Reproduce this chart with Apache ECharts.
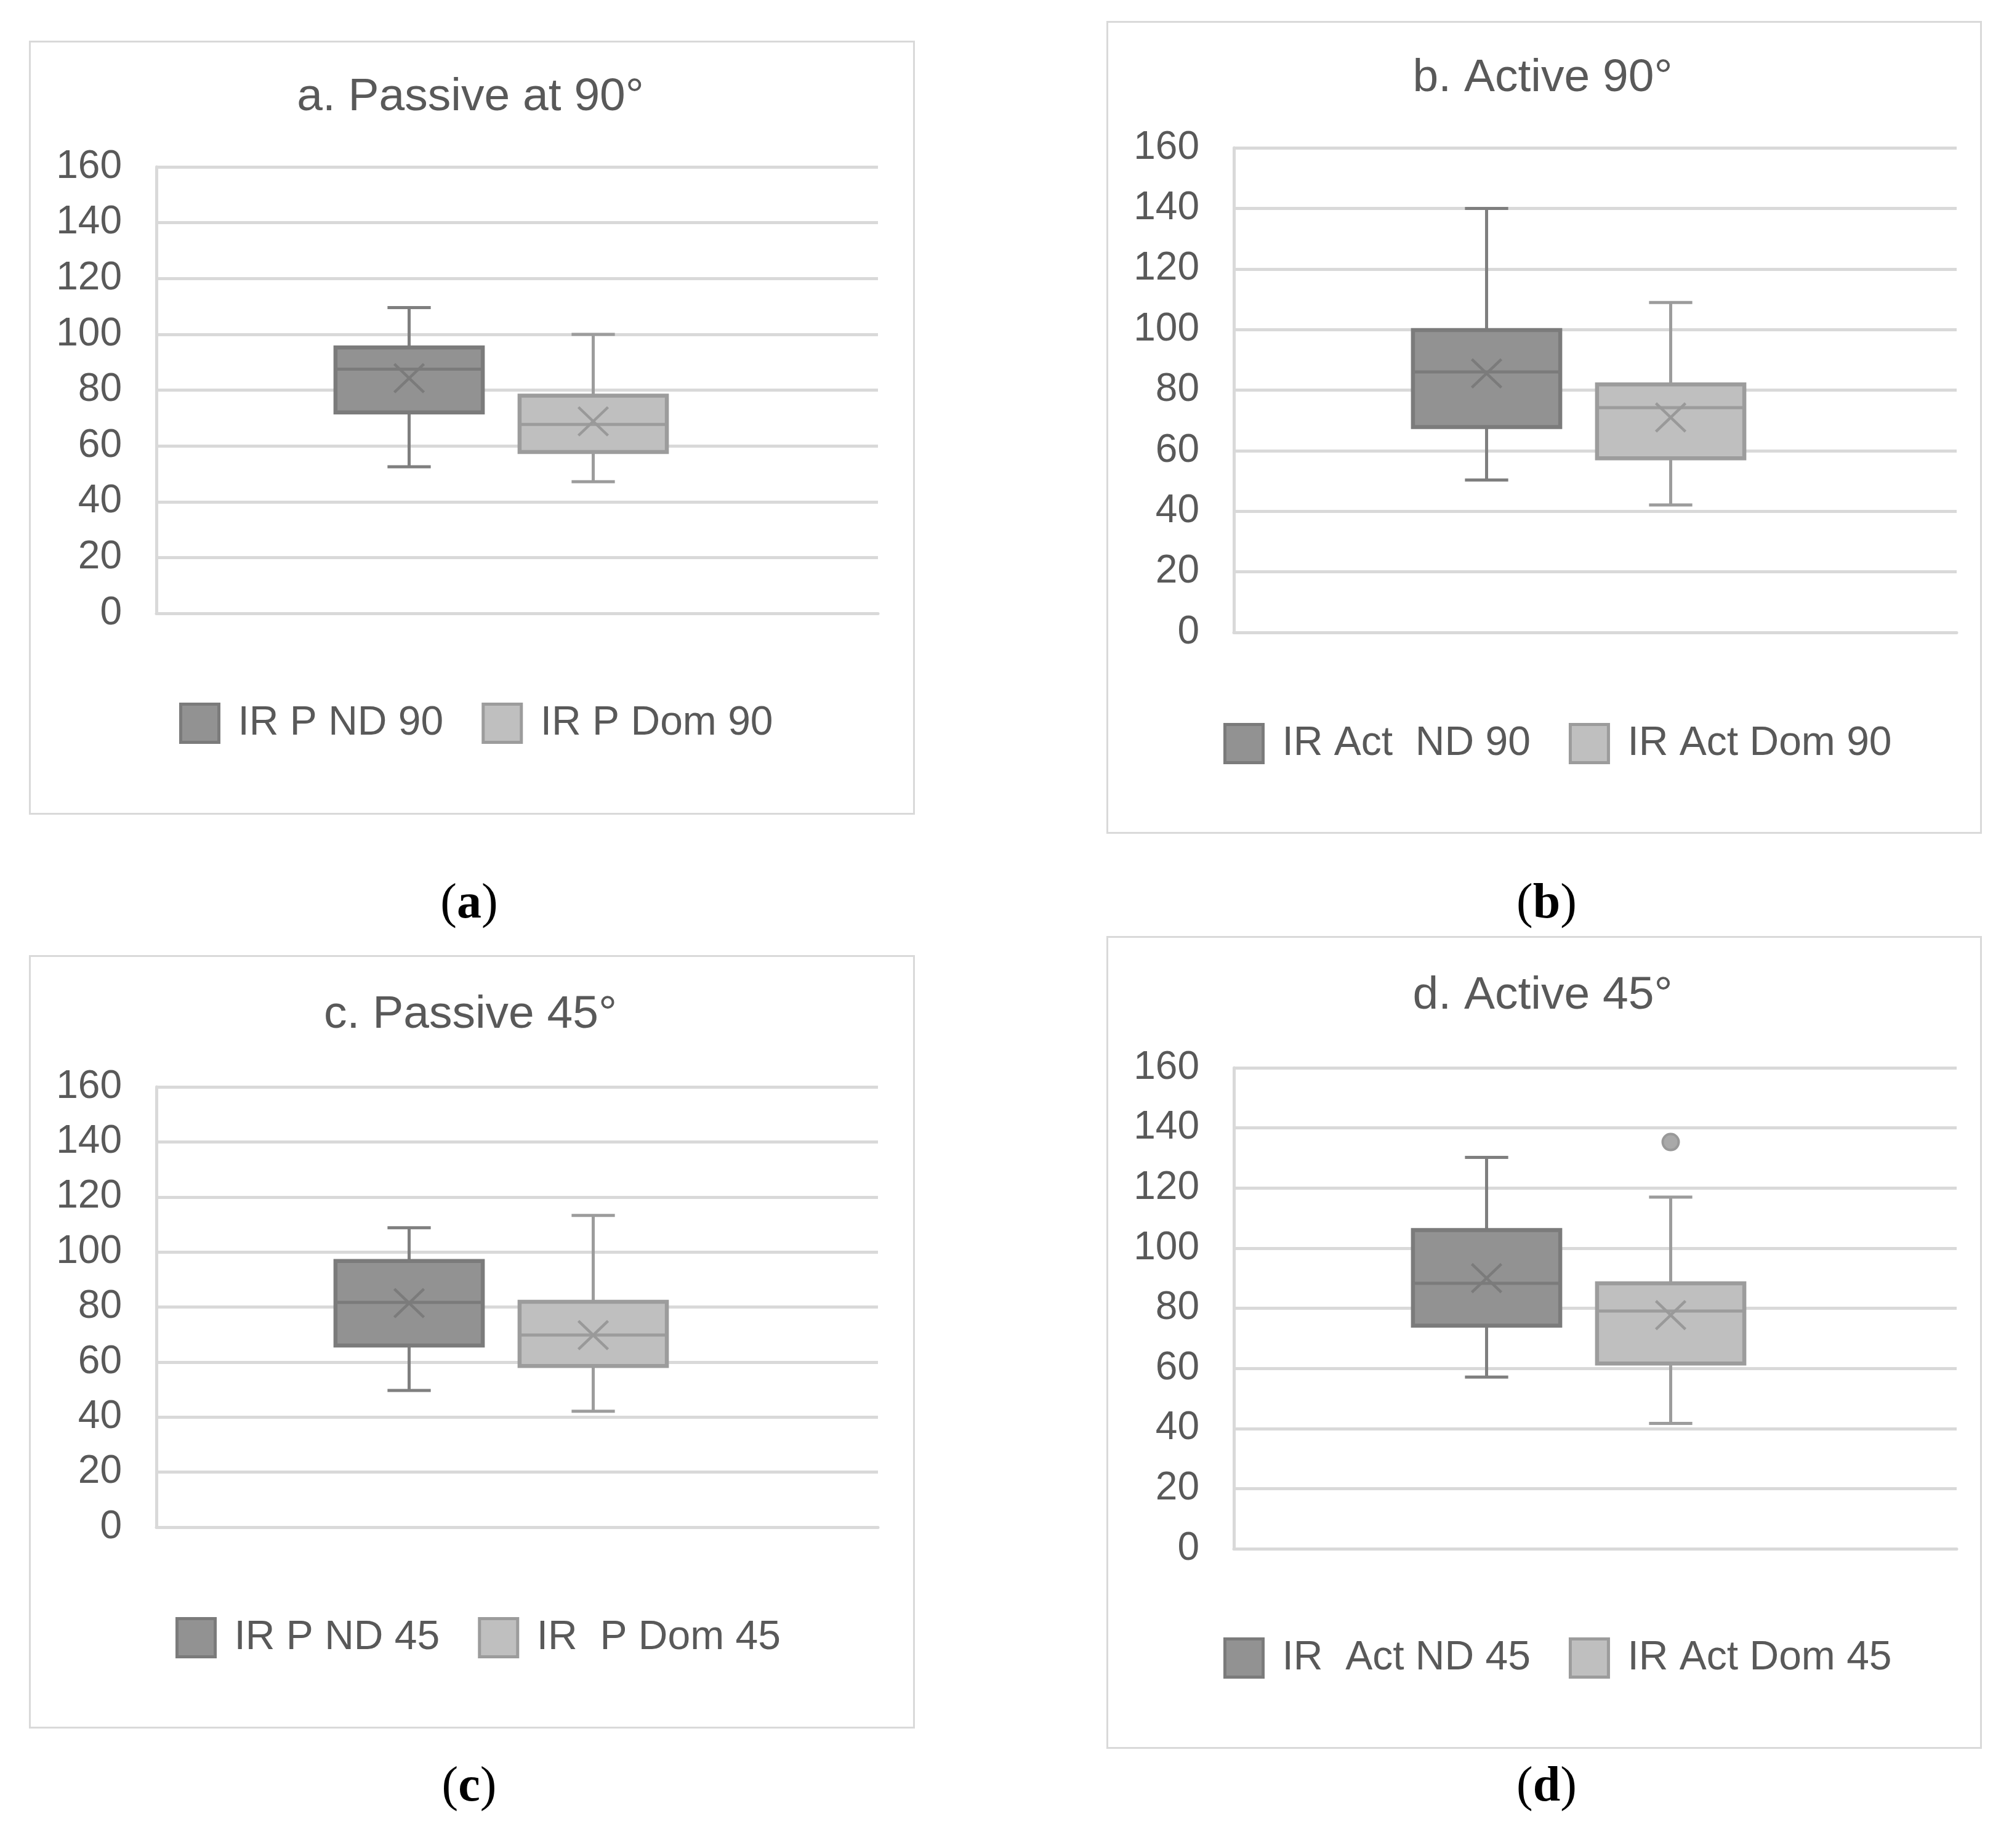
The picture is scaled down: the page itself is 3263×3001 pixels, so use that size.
<!DOCTYPE html>
<html>
<head>
<meta charset="utf-8">
<script src="https://cdn.jsdelivr.net/npm/echarts@6.0.0/dist/echarts.min.js"></script>
<style>
  html, body { margin: 0; padding: 0; background: #ffffff; }
  #chart { width: 3263px; height: 3001px; }
</style>
</head>
<body>
<div id="chart"></div>
<script>
// ---------------- DATA ----------------
const panelTitles = ['a. Passive at 90°', 'b. Active 90°', 'c. Passive 45°', 'd. Active 45°'];
const captionLetters = ['a', 'b', 'c', 'd'];
const ndNames  = ['IR P ND 90', 'IR Act  ND 90', 'IR P ND 45', 'IR  Act ND 45'];
const domNames = ['IR P Dom 90', 'IR Act Dom 90', 'IR  P Dom 45', 'IR Act Dom 45'];
const yTicks = [0, 20, 40, 60, 80, 100, 120, 140, 160];

// [min, Q1, median, Q3, max]
const ndStats = [
  [52.5, 72.0, 87.5, 95.3, 109.6],
  [50.3, 67.8, 86.0, 99.8, 140.0],
  [49.7, 66.0, 81.7, 96.7, 108.8],
  [57.1, 74.2, 88.3, 106.0, 130.2]
];
const domStats = [
  [47.2, 57.8, 67.7, 78.0, 100.0],
  [42.1, 57.5, 74.2, 81.9, 108.9],
  [42.1, 58.6, 69.8, 81.9, 113.3],
  [41.7, 61.6, 79.1, 88.3, 117.0]
];
const ndMeans  = [84.3, 85.5, 81.4, 90.0];
const domMeans = [68.8, 71.0, 69.8, 77.7];
// outliers per panel for the Dom series
const domOutliers = [[], [], [], [135.3]];

// ---------------- LAYOUT / STYLE ----------------
const panels = [
  { frame: [46, 65, 1482, 1319],   plot: [254, 271, 1426, 996],   titleY: 158,  legendLeft: 291,  legendY: 1172, capX: 762,  capY: 1469 },
  { frame: [1796, 33, 3215, 1350], plot: [2004, 240, 3178, 1027], titleY: 127,  legendLeft: 1987, legendY: 1205, capX: 2512, capY: 1469 },
  { frame: [46, 1550, 1482, 2803], plot: [254, 1765, 1426, 2480], titleY: 1648, legendLeft: 285,  legendY: 2657, capX: 762,  capY: 2903 },
  { frame: [1796, 1519, 3215, 2836], plot: [2004, 1734, 3178, 2515], titleY: 1617, legendLeft: 1987, legendY: 2690, capX: 2512, capY: 2903 }
];
const W = 3263, H = 3001;
const FONT = '"Liberation Sans", Arial, sans-serif';
const SERIF = '"Liberation Serif", "Times New Roman", serif';
const TEXT = '#595959';
const GRID = '#d9d9d9';
const ndStyle  = { fill: '#929292', border: '#7b7b7b', whisker: '#7f7f7f', mark: '#7b7b7b' };
const domStyle = { fill: '#bfbfbf', border: '#9c9c9c', whisker: '#9c9c9c', mark: '#999999' };

function makeRenderer(st) {
  return function (params, api) {
    const x = api.value(0);
    const vals = [1, 2, 3, 4, 5, 6].map(i => api.value(i));
    const band = api.size([1, 0])[0];
    const bw = band * 0.8;
    const cw = band * 0.235;
    const c = v => api.coord([x, v]);
    const pMin = c(vals[0]), pQ1 = c(vals[1]), pMed = c(vals[2]), pQ3 = c(vals[3]), pMax = c(vals[4]), pMean = c(vals[5]);
    const cx = pMin[0];
    const wl = { stroke: st.whisker, lineWidth: 5 };
    const ml = { stroke: st.mark, lineWidth: 4.5 };
    const xs = 24, ys = 23;
    return {
      type: 'group',
      children: [
        { type: 'line', shape: { x1: cx, y1: pMax[1], x2: cx, y2: pQ3[1] }, style: wl },
        { type: 'line', shape: { x1: cx - cw / 2, y1: pMax[1], x2: cx + cw / 2, y2: pMax[1] }, style: wl },
        { type: 'line', shape: { x1: cx, y1: pQ1[1], x2: cx, y2: pMin[1] }, style: wl },
        { type: 'line', shape: { x1: cx - cw / 2, y1: pMin[1], x2: cx + cw / 2, y2: pMin[1] }, style: wl },
        { type: 'rect', shape: { x: cx - bw / 2, y: pQ3[1], width: bw, height: pQ1[1] - pQ3[1] },
          style: { fill: st.fill, stroke: st.border, lineWidth: 6.5 } },
        { type: 'line', shape: { x1: cx - bw / 2, y1: pMed[1], x2: cx + bw / 2, y2: pMed[1] },
          style: { stroke: st.border, lineWidth: 5 } },
        { type: 'line', shape: { x1: cx - xs, y1: pMean[1] - ys, x2: cx + xs, y2: pMean[1] + ys }, style: ml },
        { type: 'line', shape: { x1: cx - xs, y1: pMean[1] + ys, x2: cx + xs, y2: pMean[1] - ys }, style: ml }
      ]
    };
  };
}

const option = {
  backgroundColor: '#ffffff',
  animation: false,
  title: [], legend: [], grid: [], xAxis: [], yAxis: [], series: [],
  graphic: []
};

panels.forEach((p, i) => {
  const [fl, ft, fr, fb] = p.frame;
  const [pl, pt, pr, pb] = p.plot;
  // frame
  option.graphic.push({
    type: 'rect', left: fl, top: ft, silent: true,
    shape: { width: fr - fl, height: fb - ft },
    style: { fill: 'none', stroke: GRID, lineWidth: 3 }
  });
  // panel title
  option.title.push({
    text: panelTitles[i], left: (fl + fr) / 2, top: p.titleY,
    textAlign: 'center', textVerticalAlign: 'middle', padding: 0,
    textStyle: { fontFamily: FONT, fontSize: 75, fontWeight: 'normal', color: TEXT }
  });
  // caption: normal parentheses, bold letter
  option.title.push({
    text: '{p|(}{b|' + captionLetters[i] + '}{p|)}', left: p.capX, top: p.capY,
    textAlign: 'center', textVerticalAlign: 'middle', padding: 0,
    textStyle: {
      rich: {
        p: { fontFamily: SERIF, fontSize: 80, fontWeight: 'normal', color: '#000000' },
        b: { fontFamily: SERIF, fontSize: 80, fontWeight: 'bold', color: '#000000' }
      }
    }
  });
  // base grid (gridlines, y labels)
  const gBase = option.grid.length;
  option.grid.push({ left: pl, top: pt, width: pr - pl, height: pb - pt, containLabel: false });
  option.xAxis.push({
    gridIndex: gBase, type: 'category', data: [''],
    axisLine: { show: true, lineStyle: { color: GRID, width: 5 } },
    axisTick: { show: false }, axisLabel: { show: false }, splitLine: { show: false }
  });
  option.yAxis.push({
    gridIndex: gBase, type: 'value', min: yTicks[0], max: yTicks[yTicks.length - 1], interval: yTicks[1] - yTicks[0],
    axisLine: { show: true, lineStyle: { color: GRID, width: 5 } },
    axisTick: { show: false },
    axisLabel: { fontFamily: FONT, fontSize: 64, color: TEXT, margin: 56 },
    splitLine: { show: true, lineStyle: { color: GRID, width: 5 } }
  });
  // box grid (positions the two boxes)
  const gBox = option.grid.length;
  option.grid.push({ left: pl + 261, top: pt, width: 598, height: pb - pt, containLabel: false });
  option.xAxis.push({
    gridIndex: gBox, type: 'category', data: ['ND', 'Dom'], show: false
  });
  option.yAxis.push({
    gridIndex: gBox, type: 'value', min: yTicks[0], max: yTicks[yTicks.length - 1], show: false,
    splitLine: { show: false }
  });
  option.series.push({
    name: ndNames[i], type: 'custom', xAxisIndex: gBox, yAxisIndex: gBox,
    renderItem: makeRenderer(ndStyle),
    encode: { x: 0, y: [1, 2, 3, 4, 5, 6] },
    itemStyle: { color: ndStyle.fill, borderColor: ndStyle.border },
    data: [[0].concat(ndStats[i], [ndMeans[i]])],
    z: 5
  });
  option.series.push({
    name: domNames[i], type: 'custom', xAxisIndex: gBox, yAxisIndex: gBox,
    renderItem: makeRenderer(domStyle),
    encode: { x: 0, y: [1, 2, 3, 4, 5, 6] },
    itemStyle: { color: domStyle.fill, borderColor: domStyle.border },
    data: [[1].concat(domStats[i], [domMeans[i]])],
    z: 5
  });
  if (domOutliers[i].length) {
    option.series.push({
      name: domNames[i] + ' outliers', type: 'scatter', xAxisIndex: gBox, yAxisIndex: gBox,
      symbol: 'circle', symbolSize: 26,
      itemStyle: { color: '#a9a9a9', borderColor: '#999999', borderWidth: 4, opacity: 1 },
      data: domOutliers[i].map(v => [1, v]),
      z: 6
    });
  }
  // legend
  option.legend.push({
    left: p.legendLeft, top: p.legendY - 31, orient: 'horizontal',
    itemWidth: 62, itemHeight: 62, itemGap: 62, padding: 0,
    selectedMode: false,
    textStyle: { fontFamily: FONT, fontSize: 66, color: TEXT, padding: [0, 0, 0, 26] },
    data: [
      { name: ndNames[i], icon: 'rect', itemStyle: { color: ndStyle.fill, borderColor: ndStyle.border, borderWidth: 5 } },
      { name: domNames[i], icon: 'rect', itemStyle: { color: domStyle.fill, borderColor: domStyle.border, borderWidth: 5 } }
    ]
  });
});

const chart = echarts.init(document.getElementById('chart'), null, { renderer: 'canvas', width: W, height: H });
chart.setOption(option);
</script>
</body>
</html>
